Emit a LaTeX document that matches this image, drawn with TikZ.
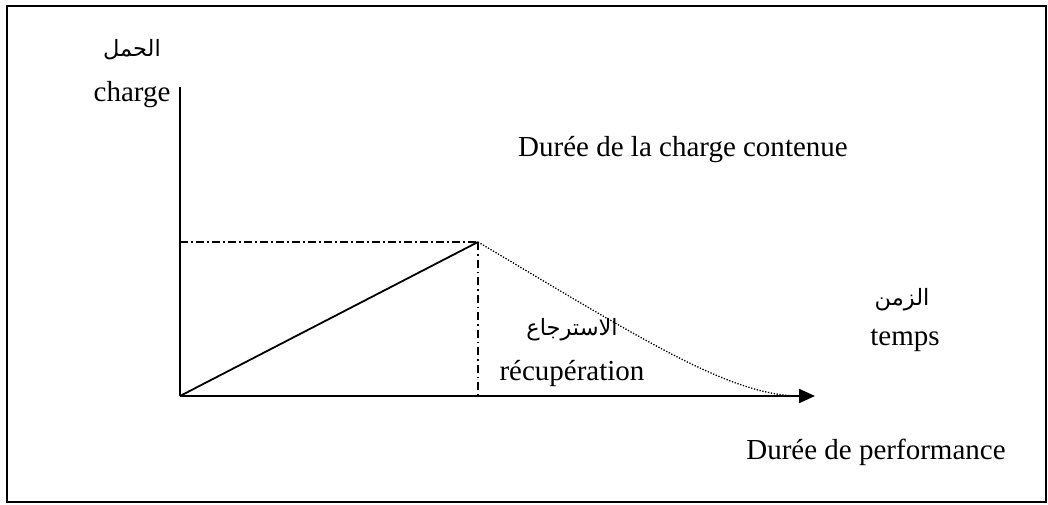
\documentclass[tikz,border=0pt]{standalone}
\usepackage{fontspec}
\setmainfont{Liberation Serif}
\newfontfamily\arabicfont[Script=Arabic]{DejaVu Sans}
\TeXXeTstate=1
\usetikzlibrary{arrows.meta}
\begin{document}
\begin{tikzpicture}[x=1pt,y=-1pt,
  lbl/.style={inner sep=0pt,font=\fontsize{29}{33}\selectfont},
  arlbl/.style={inner sep=0pt,font=\arabicfont\fontsize{22.5}{26}\selectfont},
  axis/.style={line width=2.2pt},
  guide/.style={line width=1.4pt,dash pattern=on 8pt off 3pt on 2pt off 3pt},
  recov/.style={line width=1.3pt,dash pattern=on 1.3pt off 1.6pt}]
\useasboundingbox (0,0) rectangle (1048,504);
\draw[line width=2.5pt] (7,6) rectangle (1046,502);
\coordinate (O) at (180,396);
\coordinate (Ytop) at (180,87);
\coordinate (Xend) at (815,396);
\coordinate (P) at (478,242);
\coordinate (Py) at (180,242);
\coordinate (Px) at (478,396);
\coordinate (E) at (800,396);
\draw[axis] (O) -- (Ytop);
\draw[axis,-{Triangle[length=16pt,width=14pt]}] (O) -- (Xend);
\draw[line width=1.8pt] (O) -- (P);
\draw[guide] (Py) -- (P);
\draw[guide,dash pattern=on 8pt off 4pt on 1.5pt off 4pt,line width=1.2pt] (P) -- (Px);
\draw[recov] (P) .. controls (640,338) and (730,396) .. (E);
\node[arlbl] (ar1) at (132,50) {\beginR الحمل\endR};
\node[lbl] (t1) at (132,95) {charge};
\node[lbl] (t2) at (683,150) {Durée de la charge contenue};
\node[arlbl] (ar2) at (902,300) {\beginR الزمن\endR};
\node[lbl] (t3) at (905,340) {temps};
\node[arlbl] (ar3) at (572,330) {\beginR الاسترجاع\endR};
\node[lbl] (t4) at (572,373) {récupération};
\node[lbl] (t5) at (876,452) {Durée de performance};
\end{tikzpicture}
\end{document}
